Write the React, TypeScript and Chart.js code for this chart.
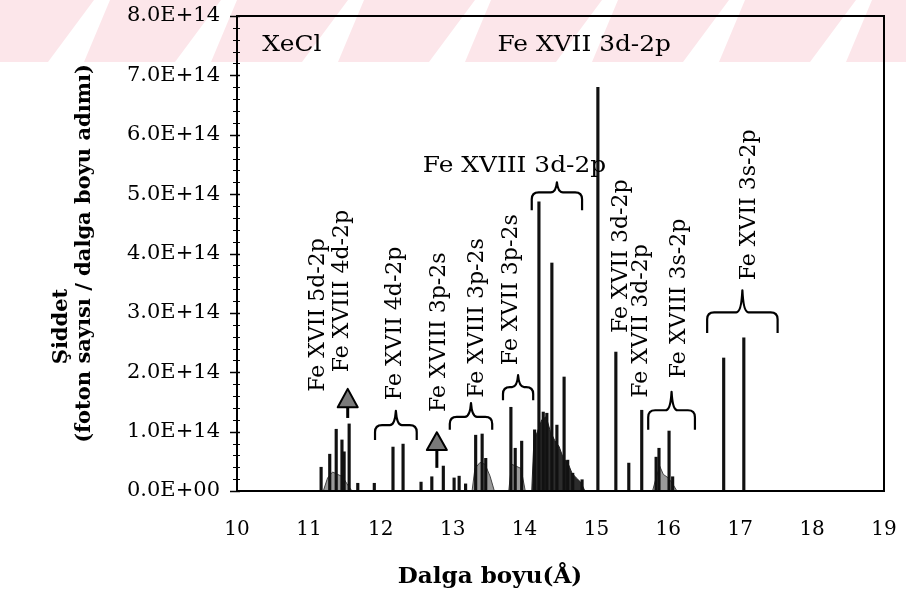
import React, { useEffect, useRef } from 'react';
import { Chart, registerables } from 'chart.js';

Chart.register(...registerables);

// ---- data (wavelength in Å, intensity in photons / wavelength step) ----
const xTickMin = 10;
const xTickMax = 19;
const yTickMax = 8e14;
const yTickStep = 1e14;

const peakWavelengths = [
  11.17, 11.29, 11.38, 11.46, 11.49, 11.56, 11.68, 11.91,
  12.17, 12.31, 12.56, 12.71, 12.87,
  13.02, 13.09, 13.18, 13.32, 13.41, 13.46, 13.81, 13.87, 13.96,
  14.14, 14.2, 14.26, 14.31, 14.38, 14.45, 14.55, 14.6, 14.67, 14.8,
  15.02, 15.27, 15.45, 15.63, 15.83, 15.87,
  16.01, 16.06, 16.77, 17.05,
];
const peakIntensities = [
  0.4e14, 0.62e14, 1.04e14, 0.86e14, 0.66e14, 1.13e14, 0.13e14, 0.13e14,
  0.74e14, 0.79e14, 0.15e14, 0.24e14, 0.42e14,
  0.22e14, 0.25e14, 0.12e14, 0.94e14, 0.96e14, 0.55e14, 1.41e14, 0.72e14, 0.84e14,
  1.03e14, 4.87e14, 1.33e14, 1.31e14, 3.84e14, 1.11e14, 1.92e14, 0.52e14, 0.3e14, 0.19e14,
  6.8e14, 2.34e14, 0.47e14, 1.36e14, 0.57e14, 0.72e14,
  1.01e14, 0.24e14, 2.24e14, 2.58e14,
];

// blended (unresolved) line envelopes
const blendWavelengths = [
  11.2, 11.26, 11.33, 11.4, 11.47, 11.53, 11.6,
  13.27, 13.31, 13.38, 13.45, 13.52, 13.58,
  13.78, 13.82, 13.88, 13.95, 14.01,
  15.78, 15.83, 15.88, 15.93, 16.0, 16.06, 16.12,
];
const blendIntensities = [
  0, 0.22e14, 0.32e14, 0.28e14, 0.24e14, 0.12e14, 0,
  0, 0.38e14, 0.48e14, 0.45e14, 0.25e14, 0,
  0, 0.45e14, 0.42e14, 0.38e14, 0,
  0, 0.22e14, 0.42e14, 0.28e14, 0.22e14, 0.12e14, 0,
];
const denseWavelengths = [14.1, 14.13, 14.18, 14.24, 14.3, 14.36, 14.42, 14.48, 14.54, 14.6, 14.66, 14.72, 14.78, 14.84];
const denseIntensities = [0, 0.85e14, 1.0e14, 1.2e14, 1.25e14, 1.0e14, 0.85e14, 0.75e14, 0.55e14, 0.48e14, 0.3e14, 0.22e14, 0.15e14, 0];

// ---- annotations (data coordinates) ----
const verticalLabels = [
  { text: 'Fe XVII 5d-2p', x: 11.13, y: 1.67e14 },
  { text: 'Fe XVIII 4d-2p', x: 11.47, y: 2.0e14 },
  { text: 'Fe XVII 4d-2p', x: 12.2, y: 1.53e14 },
  { text: 'Fe XVIII 3p-2s', x: 12.82, y: 1.33e14 },
  { text: 'Fe XVIII 3p-2s', x: 13.34, y: 1.57e14 },
  { text: 'Fe XVII 3p-2s', x: 13.82, y: 2.12e14 },
  { text: 'Fe XVII 3d-2p', x: 15.34, y: 2.66e14 },
  { text: 'Fe XVII 3d-2p', x: 15.63, y: 1.57e14 },
  { text: 'Fe XVIII 3s-2p', x: 16.15, y: 1.9e14 },
  { text: 'Fe XVII 3s-2p', x: 17.13, y: 3.55e14 },
];
const horizontalLabels = [
  { text: 'XeCl', x: 10.35, y: 7.51e14, align: 'left' },
  { text: 'Fe XVII 3d-2p', x: 14.83, y: 7.51e14, align: 'center' },
  { text: 'Fe XVIII 3d-2p', x: 13.86, y: 5.47e14, align: 'center' },
];
const braces = [
  { x1: 11.92, x2: 12.5, tip: 1.35e14, bar: 1.11e14, leg: 0.86e14 },
  { x1: 12.96, x2: 13.55, tip: 1.48e14, bar: 1.25e14, leg: 1.03e14 },
  { x1: 13.7, x2: 14.12, tip: 1.95e14, bar: 1.75e14, leg: 1.53e14 },
  { x1: 14.1, x2: 14.8, tip: 5.2e14, bar: 5.03e14, leg: 4.73e14 },
  { x1: 15.72, x2: 16.37, tip: 1.67e14, bar: 1.36e14, leg: 1.03e14 },
  { x1: 16.54, x2: 17.52, tip: 3.38e14, bar: 3.01e14, leg: 2.66e14 },
];
const arrows = [
  { x: 11.54, tip: 1.72e14, base: 1.41e14, tail: 1.23e14 },
  { x: 12.78, tip: 0.99e14, base: 0.69e14, tail: 0.39e14 },
];

const yTitleMain = 'Şiddet';
const yTitleSub = '(foton sayısı / dalga boyu adımı)';
const xTitle = 'Dalga boyu(Å)';

function formatSci(v: number): string {
  if (v === 0) return '0.0E+00';
  const e = Math.floor(Math.log10(Math.abs(v)) + 1e-9);
  const m = v / Math.pow(10, e);
  return m.toFixed(1) + 'E+' + String(e).padStart(2, '0');
}

const SERIF = '"DejaVu Serif", serif';

const backgroundPlugin = {
  id: 'watermark',
  beforeDraw(chart: any) {
    const ctx = chart.ctx as CanvasRenderingContext2D;
    ctx.save();
    ctx.fillStyle = '#fce6ea';
    const period = 127;
    const g0 = 356;
    const h = 62;
    const shift = 36;
    for (let k = -4; k < 8; k++) {
      const ga = g0 + k * period;
      const gb = ga + period;
      ctx.beginPath();
      ctx.moveTo(ga + 8, 0);
      ctx.lineTo(gb - 8, 0);
      ctx.lineTo(gb - shift - 18, h);
      ctx.lineTo(ga - shift + 18, h);
      ctx.closePath();
      ctx.fill();
    }
    ctx.restore();
  },
};

const annotationPlugin = {
  id: 'annotations',
  afterDraw(chart: any) {
    const ctx = chart.ctx as CanvasRenderingContext2D;
    const xs = chart.scales.x;
    const ys = chart.scales.y;
    const area = chart.chartArea;
    const X = (v: number) => xs.getPixelForValue(v);
    const Y = (v: number) => ys.getPixelForValue(v);
    ctx.save();

    // plot border
    ctx.strokeStyle = '#000';
    ctx.lineWidth = 2;
    ctx.strokeRect(area.left, area.top, area.right - area.left, area.bottom - area.top);

    // major and minor ticks on y axis
    for (let i = 0; i <= 40; i++) {
      const v = (i * yTickStep) / 5;
      const py = Math.round(Y(v)) + 0.5;
      const major = i % 5 === 0;
      ctx.lineWidth = major ? 1.5 : 1;
      ctx.beginPath();
      ctx.moveTo(area.left - (major ? 7 : 4), py);
      ctx.lineTo(area.left + 3, py);
      ctx.stroke();
    }

    // vertical labels
    ctx.fillStyle = '#000';
    ctx.font = '22px ' + SERIF;
    ctx.textAlign = 'left';
    ctx.textBaseline = 'middle';
    for (const l of verticalLabels) {
      ctx.save();
      ctx.translate(X(l.x), Y(l.y));
      ctx.rotate(-Math.PI / 2);
      ctx.fillText(l.text, 0, 0);
      ctx.restore();
    }

    // horizontal labels (slightly widened as in the scan)
    for (const l of horizontalLabels) {
      ctx.save();
      ctx.translate(X(l.x), Y(l.y));
      ctx.scale(1.13, 1);
      ctx.textAlign = l.align as CanvasTextAlign;
      ctx.fillText(l.text, 0, 0);
      ctx.restore();
    }

    // braces
    ctx.lineWidth = 2.2;
    ctx.strokeStyle = '#000';
    ctx.lineJoin = 'round';
    for (const b of braces) {
      const x1 = X(b.x1), x2 = X(b.x2), xm = (x1 + x2) / 2;
      const yt = Y(b.tip), yb = Y(b.bar), yl = Y(b.leg);
      const r = Math.min(7, (yl - yb) * 0.6);
      ctx.beginPath();
      ctx.moveTo(x1, yl);
      ctx.lineTo(x1, yb + r);
      ctx.quadraticCurveTo(x1, yb, x1 + r, yb);
      ctx.lineTo(xm - 6, yb);
      ctx.quadraticCurveTo(xm - 1, yb, xm, yt);
      ctx.quadraticCurveTo(xm + 1, yb, xm + 6, yb);
      ctx.lineTo(x2 - r, yb);
      ctx.quadraticCurveTo(x2, yb, x2, yb + r);
      ctx.lineTo(x2, yl);
      ctx.stroke();
    }

    // arrows
    for (const a of arrows) {
      const x = X(a.x), yt = Y(a.tip), yb = Y(a.base), yl = Y(a.tail);
      ctx.lineWidth = 3;
      ctx.beginPath();
      ctx.moveTo(x, yb);
      ctx.lineTo(x, yl);
      ctx.stroke();
      ctx.beginPath();
      ctx.moveTo(x, yt);
      ctx.lineTo(x - 10, yb);
      ctx.lineTo(x + 10, yb);
      ctx.closePath();
      ctx.fillStyle = '#7a7a7a';
      ctx.fill();
      ctx.lineWidth = 2;
      ctx.stroke();
    }

    // axis titles
    ctx.fillStyle = '#000';
    ctx.font = 'bold 21px ' + SERIF;
    ctx.textAlign = 'center';
    ctx.textBaseline = 'middle';
    const midY = (area.top + area.bottom) / 2;
    ctx.save();
    ctx.translate(85, midY);
    ctx.rotate(-Math.PI / 2);
    ctx.fillText(yTitleSub, 0, 0);
    ctx.restore();
    ctx.save();
    ctx.translate(62, midY + 73);
    ctx.rotate(-Math.PI / 2);
    ctx.fillText(yTitleMain, 0, 0);
    ctx.restore();

    ctx.save();
    ctx.font = 'bold 22px ' + SERIF;
    ctx.translate(area.left + 253, area.bottom + 86);
    ctx.scale(1.05, 1);
    ctx.fillText(xTitle, 0, 0);
    ctx.restore();

    ctx.restore();
  },
};

export default function App() {
  const ref = useRef<HTMLCanvasElement>(null);

  useEffect(() => {
    document.body.style.margin = '0';
    const canvas = ref.current!;
    const chart = new Chart(canvas, {
      type: 'bar',
      data: {
        datasets: [
          {
            type: 'bar',
            label: 'lines',
            data: peakWavelengths.map((x, i) => ({ x, y: peakIntensities[i] })),
            backgroundColor: '#111',
            borderWidth: 0,
            barThickness: 2.5,
            order: 0,
          } as any,
          {
            type: 'line',
            label: 'dense',
            data: denseWavelengths.map((x, i) => ({ x, y: denseIntensities[i] })),
            borderColor: '#222',
            borderWidth: 1,
            backgroundColor: '#2c2c2c',
            fill: 'origin',
            pointRadius: 0,
            tension: 0,
            order: 1,
          } as any,
          {
            type: 'line',
            label: 'blend',
            data: blendWavelengths.map((x, i) => ({ x, y: blendIntensities[i] })),
            borderColor: '#444',
            borderWidth: 1,
            backgroundColor: '#9a9a9a',
            fill: 'origin',
            pointRadius: 0,
            tension: 0,
            order: 2,
          } as any,
        ],
      },
      options: {
        responsive: false,
        animation: false,
        devicePixelRatio: 1,
        layout: { padding: { left: 0, right: 22, top: 16, bottom: 0 } },
        plugins: {
          legend: { display: false },
          tooltip: { enabled: false },
        },
        scales: {
          x: {
            type: 'linear',
            min: xTickMin,
            max: xTickMax,
            offset: false,
            afterFit: (s: any) => { s.height = 110; },
            ticks: {
              stepSize: 1,
              color: '#000',
              font: { family: SERIF, size: 20 },
              padding: 2,
              maxRotation: 0,
              autoSkip: false,
            },
            grid: { drawOnChartArea: false, drawTicks: true, tickLength: 25, color: 'rgba(0,0,0,0)', offset: false },
            border: { display: true, color: '#000', width: 2 },
            title: { display: false, text: xTitle },
          },
          y: {
            type: 'linear',
            min: 0,
            max: yTickMax,
            afterFit: (s: any) => { s.width = 237; },
            ticks: {
              stepSize: yTickStep,
              color: '#000',
              font: { family: SERIF, size: 21 },
              padding: 2,
              callback: (v: any) => formatSci(Number(v)),
            },
            grid: { drawOnChartArea: false, drawTicks: true, tickLength: 15, color: 'rgba(0,0,0,0)' },
            border: { display: true, color: '#000', width: 2 },
            title: { display: false, text: [yTitleMain, yTitleSub] },
          },
        },
      } as any,
      plugins: [backgroundPlugin, annotationPlugin],
    });
    return () => chart.destroy();
  }, []);

  return (
    <div style={{ width: 906, height: 601 }}>
      <canvas ref={ref} width={906} height={601} style={{ display: 'block' }} />
    </div>
  );
}
